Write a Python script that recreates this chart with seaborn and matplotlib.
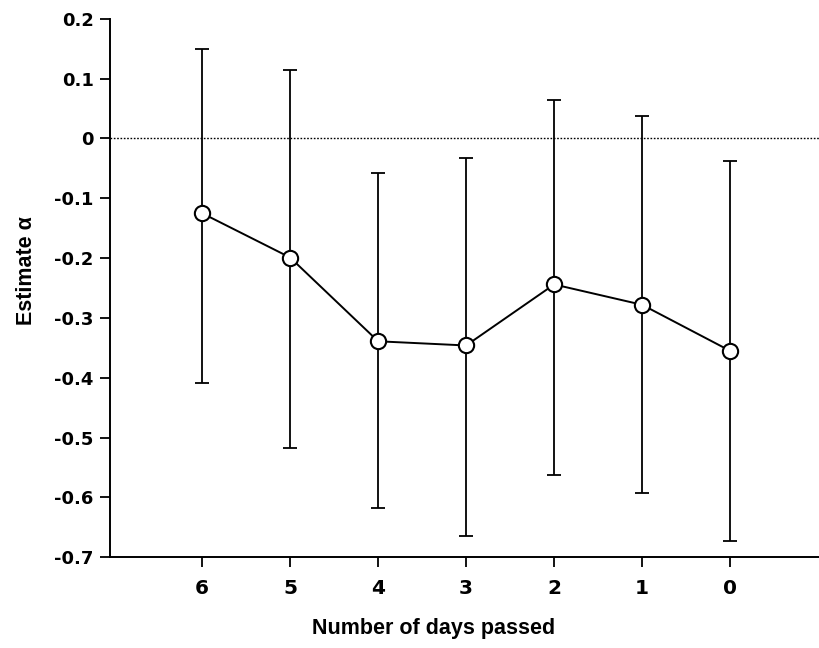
import numpy as np
import pandas as pd
import seaborn as sns
import matplotlib
matplotlib.use("Agg")
import matplotlib.pyplot as plt

# values
days = [6, 5, 4, 3, 2, 1, 0]
estimate = [-0.125, -0.199, -0.339, -0.346, -0.244, -0.278, -0.355]
upper = [0.149, 0.115, -0.057, -0.032, 0.065, 0.037, -0.038]
lower = [-0.408, -0.517, -0.617, -0.664, -0.562, -0.592, -0.672]
yticks = [0.2, 0.1, 0, -0.1, -0.2, -0.3, -0.4, -0.5, -0.6, -0.7]
ytick_labels = ["0.2", "0.1", "0", "-0.1", "-0.2", "-0.3", "-0.4",
                "-0.5", "-0.6", "-0.7"]

df = pd.DataFrame({"days": days, "estimate": estimate,
                   "upper": upper, "lower": lower})

sns.set_style("ticks")
plt.rcParams['font.family'] = ['Liberation Sans', 'DejaVu Sans']
plt.rcParams['text.color'] = 'black'
plt.rcParams['axes.labelcolor'] = 'black'
plt.rcParams['xtick.color'] = 'black'
plt.rcParams['ytick.color'] = 'black'

fig = plt.figure(figsize=(8.19, 6.48), dpi=100)
ax = fig.add_axes([0.134, 0.140, 0.866, 0.831])

# zero reference line
ax.axhline(0, color="black", lw=1.0, ls=(0, (1.2, 1.2)), zorder=1)

# error bars
yerr = [df["estimate"] - df["lower"], df["upper"] - df["estimate"]]
ax.errorbar(df["days"], df["estimate"], yerr=yerr, fmt="none",
            ecolor="black", elinewidth=1.3, capsize=5, capthick=1.3, zorder=2)

# connecting line + open markers
sns.lineplot(data=df, x="days", y="estimate", ax=ax, color="black",
             lw=1.4, marker="o", markersize=11, markerfacecolor="white",
             markeredgecolor="black", markeredgewidth=1.5, zorder=3)

ax.set_xlim(7.05, -1.01)
ax.set_ylim(-0.7, 0.2)
ax.set_xticks(days)
ax.set_xticklabels([str(d) for d in days], fontsize=14.5,
                   fontweight="bold", family="DejaVu Sans")
ax.set_yticks(yticks)
ax.set_yticklabels(ytick_labels, fontsize=13, fontweight="bold",
                   family="DejaVu Sans")

ax.tick_params(axis="both", direction="out", length=7.5, width=1.3,
               color="black", labelcolor="black")
ax.tick_params(axis="x", pad=8)
ax.tick_params(axis="y", pad=4)

for side in ["top", "right"]:
    ax.spines[side].set_visible(False)
for side in ["left", "bottom"]:
    ax.spines[side].set_linewidth(1.4)
    ax.spines[side].set_color("black")

ax.set_xlabel("Number of days passed", fontsize=15.5, fontweight="bold")
ax.set_ylabel("Estimate \u03b1", fontsize=15.5, fontweight="bold")
ax.xaxis.set_label_coords(0.456, -0.113)
ax.yaxis.set_label_coords(-0.102, 0.532)

fig.savefig("out.png", dpi=100)
